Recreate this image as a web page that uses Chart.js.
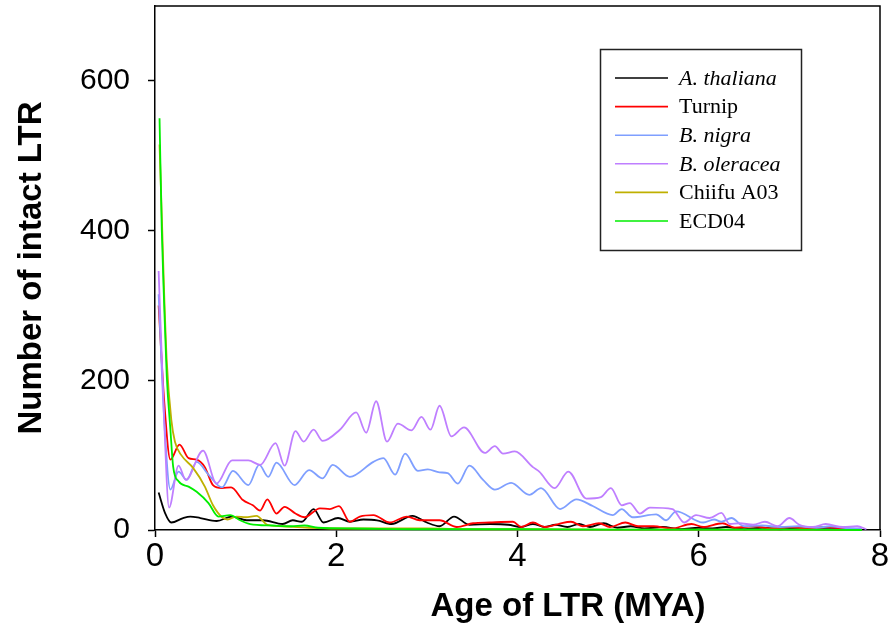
<!DOCTYPE html>
<html><head><meta charset="utf-8">
<script src="https://cdn.jsdelivr.net/npm/chart.js@4.4.0/dist/chart.umd.min.js"></script>
<style>html,body{margin:0;padding:0;background:#fff}#wrap{width:895px;height:637px;position:relative}</style>
</head><body><div id="wrap"><canvas id="c" width="895" height="637"></canvas></div>
<script>
const xTicks = [0, 2, 4, 6, 8];
const yTicks = [0, 200, 400, 600];
const seriesNames = ["A. thaliana", "Turnip", "B. nigra", "B. oleracea", "Chiifu A03", "ECD04"];
const italicNames = [true, false, true, true, false, false];
const seriesColors = ["#000000", "#ff0000", "#7f9fff", "#bf7fff", "#bfb000", "#00ee00"];

const athalianaAge = [0.04,0.11,0.18,0.31,0.39,0.5,0.68,0.85,1.01,1.19,1.41,1.52,1.62,1.75,1.86,2.02,2.15,2.3,2.45,2.61,2.84,3.0,3.14,3.3,3.47,3.7,3.9,4.04,4.17,4.3,4.42,4.55,4.68,4.8,4.95,5.1,5.25,5.4,5.6,5.8,6.0,6.15,6.3,6.5,6.7,6.9,7.1,7.3,7.5,7.8];
const athalianaCount = [50,23,10,16,18,16,12,18,13,13,8,13,11,28,10,16,11,14,13,8,19,10,5,18,7,8,7,4,8,4,7,4,8,4,9,3,5,2,4,1,3,2,4,1,3,1,2,1,1,0];

const turnipAge = [0.04,0.1,0.17,0.27,0.37,0.46,0.55,0.64,0.74,0.84,0.97,1.08,1.16,1.24,1.34,1.43,1.55,1.65,1.82,1.93,2.03,2.15,2.26,2.41,2.59,2.78,2.92,3.14,3.33,3.51,3.69,3.95,4.04,4.17,4.3,4.45,4.59,4.72,4.9,5.02,5.19,5.33,5.5,5.7,5.92,6.05,6.26,6.4,6.6,6.8,7.0,7.2,7.4,7.6,7.8];
const turnipCount = [300,175,94,114,96,94,84,60,56,57,40,33,26,41,22,31,22,17,29,28,32,11,18,20,10,18,13,13,4,9,10,11,4,10,4,8,11,5,9,4,10,5,5,2,8,4,9,3,5,2,4,2,4,2,1];

const nigraAge = [0.04,0.1,0.17,0.26,0.35,0.46,0.59,0.74,0.86,1.03,1.15,1.25,1.34,1.54,1.70,1.85,1.96,2.15,2.41,2.52,2.65,2.76,2.90,3.01,3.14,3.23,3.34,3.47,3.62,3.75,3.93,4.13,4.26,4.47,4.65,4.83,5.05,5.15,5.27,5.53,5.64,5.75,6.05,6.17,6.25,6.36,6.5,6.7,6.9,7.1,7.3,7.45,7.6,7.8];
const nigraCount = [315,150,54,78,67,91,74,57,79,60,87,71,90,60,80,69,87,71,91,96,74,102,79,81,77,76,62,86,67,54,63,47,56,28,41,32,20,28,17,21,13,25,10,14,11,16,5,6,4,5,3,5,3,2];

const oleraceaAge = [0.04,0.1,0.155,0.26,0.34,0.53,0.68,0.85,1.03,1.16,1.33,1.43,1.55,1.64,1.75,1.85,2.04,2.22,2.33,2.44,2.56,2.68,2.83,2.94,3.04,3.14,3.27,3.41,3.64,3.75,3.84,3.97,4.17,4.24,4.41,4.56,4.76,4.92,5.03,5.15,5.24,5.35,5.46,5.71,5.84,5.97,6.12,6.25,6.34,6.45,6.6,6.73,6.87,7.0,7.11,7.26,7.4,7.59,7.75,7.85];
const oleraceaCount = [346,150,30,86,67,106,62,93,93,87,116,86,132,118,134,119,134,157,130,172,118,142,133,151,134,166,125,137,103,112,102,105,84,78,56,78,42,44,56,33,36,22,30,28,10,20,16,23,8,9,7,11,5,16,7,4,8,4,5,1];

const chiifuAge = [0.05,0.08,0.1,0.13,0.18,0.22,0.29,0.42,0.55,0.64,0.74,0.8,0.9,1.0,1.12,1.24,1.4,1.7,2.0,2.5,3.0,3.5,4.0,5.0,6.0,7.0,7.8];
const chiifuCount = [515,400,320,225,147,118,100,83,58,33,17,14,18,17,19,7,5,3,2,2,2,1,1,0.5,0.5,0.5,0];

const ecdAge = [0.05,0.075,0.1,0.13,0.17,0.2,0.26,0.37,0.46,0.59,0.70,0.83,0.94,1.05,1.3,1.5,1.65,1.8,2.2,3.0,4.0,5.0,6.0,7.0,7.8];
const ecdCount = [550,400,305,205,134,85,65,58,51,36,18,20,13,8,6,5,6,3,2,1,1,0.5,0.5,0.5,0];

const ages = [athalianaAge, turnipAge, nigraAge, oleraceaAge, chiifuAge, ecdAge];
const counts = [athalianaCount, turnipCount, nigraCount, oleraceaCount, chiifuCount, ecdCount];

const datasets = seriesNames.map((name, k) => ({
  label: name,
  data: ages[k].map((a, i) => ({x: a, y: counts[k][i]})),
  borderColor: seriesColors[k],
  backgroundColor: seriesColors[k],
  borderWidth: 1.8,
  pointRadius: 0,
  fill: false,
  cubicInterpolationMode: 'monotone',
  clip: 4,
  order: seriesNames.length - k
}));

const framePlugin = {
  id: 'frame',
  afterDraw(chart) {
    const {ctx, chartArea: a} = chart;
    ctx.save();
    ctx.strokeStyle = '#000';
    ctx.lineWidth = 1.5;
    ctx.beginPath();
    ctx.moveTo(a.left, a.top);
    ctx.lineTo(a.right, a.top);
    ctx.lineTo(a.right, a.bottom);
    ctx.stroke();
    // legend
    const bx = 600, by = 49, bw = 201, bh = 201;
    ctx.fillStyle = '#fff';
    ctx.fillRect(bx, by, bw, bh);
    ctx.strokeStyle = '#222';
    ctx.lineWidth = 1.5;
    ctx.strokeRect(bx + 0.5, by + 0.5, bw, bh);
    seriesNames.forEach((name, i) => {
      const y = 78 + 28.6 * i;
      ctx.strokeStyle = seriesColors[i];
      ctx.lineWidth = 1.6;
      ctx.beginPath();
      ctx.moveTo(615, y);
      ctx.lineTo(668, y);
      ctx.stroke();
      ctx.fillStyle = '#000';
      ctx.font = (italicNames[i] ? 'italic ' : '') + '22px "Liberation Serif", "Times New Roman", serif';
      ctx.textAlign = 'left';
      ctx.textBaseline = 'middle';
      ctx.fillText(name, 679, y + 1);
    });
    // x axis title
    ctx.fillStyle = '#000';
    ctx.font = 'bold 33px "Liberation Sans", Arial, sans-serif';
    ctx.textAlign = 'center';
    ctx.textBaseline = 'middle';
    ctx.fillText('Age of LTR (MYA)', 568, 607);
    ctx.restore();
  }
};

new Chart(document.getElementById('c'), {
  type: 'line',
  data: {datasets},
  options: {
    responsive: false,
    animation: false,
    devicePixelRatio: 1,
    layout: {padding: {top: 6, right: 15, left: 0, bottom: 0}},
    plugins: {legend: {display: false}, tooltip: {enabled: false}},
    scales: {
      x: {
        type: 'linear',
        min: 0, max: 8,
        afterBuildTicks: s => { s.ticks = xTicks.map(v => ({value: v})); },
        afterFit: s => { s.height = 107; s.paddingLeft = 0; s.paddingRight = 0; },
        ticks: {
          color: '#000',
          font: {family: '"Liberation Sans", Arial, sans-serif', size: 33},
          padding: 0,
          maxRotation: 0,
          callback: v => String(v)
        },
        grid: {display: true, drawOnChartArea: false, drawTicks: true, tickLength: 7, tickWidth: 1.5, tickColor: '#000'},
        border: {display: true, color: '#000', width: 1.5}
      },
      y: {
        type: 'linear',
        min: 0, max: 700,
        afterBuildTicks: s => { s.ticks = yTicks.map(v => ({value: v})); },
        afterFit: s => { s.width = 155; s.paddingTop = 0; s.paddingBottom = 0; },
        ticks: {
          color: '#000',
          font: {family: '"Liberation Sans", Arial, sans-serif', size: 30},
          padding: 18,
          callback: v => String(v)
        },
        grid: {display: true, drawOnChartArea: false, drawTicks: true, tickLength: 7, tickWidth: 1.5, tickColor: '#000'},
        border: {display: true, color: '#000', width: 1.5},
        title: {
          display: true,
          text: 'Number of intact LTR',
          color: '#000',
          font: {family: '"Liberation Sans", Arial, sans-serif', size: 33, weight: 'bold'},
          padding: {top: 12, bottom: 0}
        }
      }
    }
  },
  plugins: [framePlugin]
});
</script></body></html>
